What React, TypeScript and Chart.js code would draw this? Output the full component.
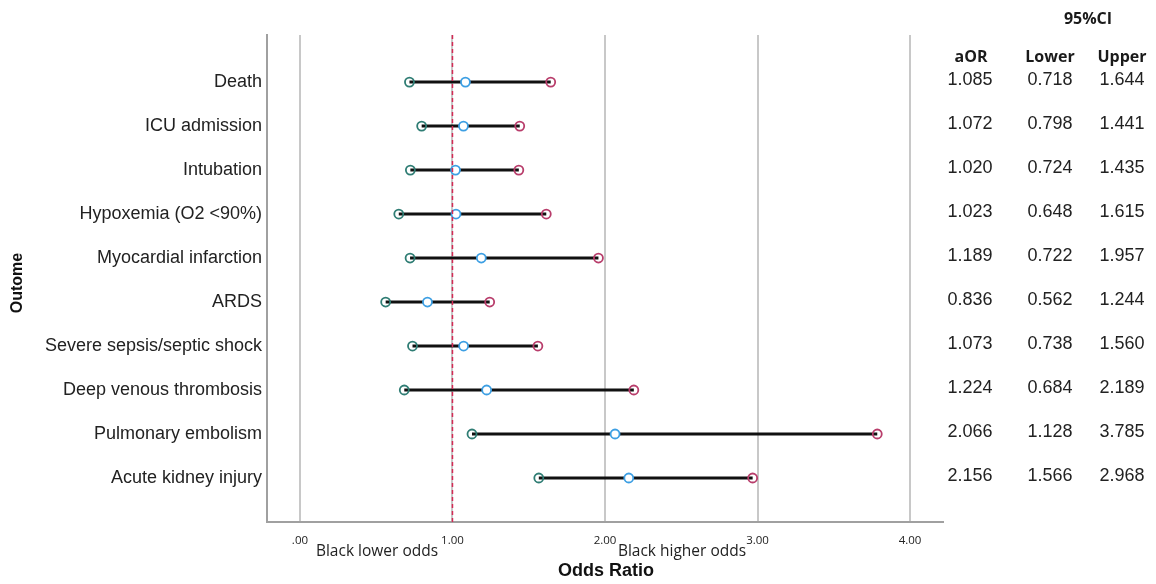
import React, { useEffect, useRef } from "react";
import { Chart, registerables } from "chart.js";

Chart.register(...registerables);

const outcomes = [
  "Death",
  "ICU admission",
  "Intubation",
  "Hypoxemia (O2 <90%)",
  "Myocardial infarction",
  "ARDS",
  "Severe sepsis/septic shock",
  "Deep venous thrombosis",
  "Pulmonary embolism",
  "Acute kidney injury",
];
const aOR = [1.085, 1.072, 1.02, 1.023, 1.189, 0.836, 1.073, 1.224, 2.066, 2.156];
const lower = [0.718, 0.798, 0.724, 0.648, 0.722, 0.562, 0.738, 0.684, 1.128, 1.566];
const upper = [1.644, 1.441, 1.435, 1.615, 1.957, 1.244, 1.56, 2.189, 3.785, 2.968];
const aORText = ["1.085", "1.072", "1.020", "1.023", "1.189", "0.836", "1.073", "1.224", "2.066", "2.156"];
const lowerText = ["0.718", "0.798", "0.724", "0.648", "0.722", "0.562", "0.738", "0.684", "1.128", "1.566"];
const upperText = ["1.644", "1.441", "1.435", "1.615", "1.957", "1.244", "1.560", "2.189", "3.785", "2.968"];
const xTickValues = [0, 1, 2, 3, 4];
const xTickLabels = [".00", "1.00", "2.00", "3.00", "4.00"];
const referenceOR = 1;

export default function App() {
  const ref = useRef<HTMLCanvasElement | null>(null);

  useEffect(() => {
    document.body.style.margin = "0";
    const canvas = ref.current;
    if (!canvas) return;

    const segData: any[] = [];
    outcomes.forEach((_, i) => {
      segData.push({ x: lower[i], y: i });
      segData.push({ x: upper[i], y: i });
      segData.push({ x: null, y: null });
    });

    const extras = {
      id: "extras",
      afterDatasetsDraw(chart: any) {
        const { ctx, chartArea, scales } = chart;
        const xs = scales.x;
        const rx = xs.getPixelForValue(referenceOR);
        ctx.save();
        ctx.strokeStyle = "#d42a55";
        ctx.lineWidth = 1.5;
        ctx.setLineDash([4, 3]);
        ctx.beginPath();
        ctx.moveTo(rx, chartArea.top);
        ctx.lineTo(rx, chartArea.bottom);
        ctx.stroke();
        ctx.restore();
      },
      afterDraw(chart: any) {
        const { ctx, scales, chartArea } = chart;
        const ys = scales.y;
        ctx.save();
        ctx.fillStyle = "#1a1a1a";
        ctx.textAlign = "center";
        ctx.textBaseline = "middle";
        ctx.font = "bold 16px 'Open Sans'";
        ctx.fillText("95%CI", 1088, 19);
        ctx.fillText("aOR", 971, 57);
        ctx.fillText("Lower", 1050, 57);
        ctx.fillText("Upper", 1122, 57);
        ctx.font = "18px 'Liberation Sans'";
        ctx.fillStyle = "#222";
        outcomes.forEach((_, i) => {
          const y = ys.getPixelForValue(i) - 2;
          ctx.fillText(aORText[i], 970, y);
          ctx.fillText(lowerText[i], 1050, y);
          ctx.fillText(upperText[i], 1122, y);
        });
        ctx.font = "15.5px 'Open Sans'";
        ctx.fillStyle = "#222";
        ctx.fillText("Black lower odds", 377, 552);
        ctx.fillText("Black higher odds", 682, 552);
        ctx.font = "bold 18px 'Liberation Sans'";
        ctx.fillStyle = "#111";
        ctx.fillText("Odds Ratio", (chartArea.left + chartArea.right) / 2 + 1, 571);
        ctx.translate(18, 283);
        ctx.rotate(-Math.PI / 2);
        ctx.font = "bold 16px 'Liberation Sans'";
        ctx.fillText("Outome", 0, 0);
        ctx.restore();
      },
    };

    const chart = new Chart(canvas, {
      type: "scatter",
      data: {
        datasets: [
          {
            label: "lower",
            data: outcomes.map((_, i) => ({ x: lower[i], y: i })),
            pointRadius: 4.5,
            pointBorderWidth: 1.8,
            pointBorderColor: "#2f7d74",
            pointBackgroundColor: "rgba(0,0,0,0)",
            showLine: false,
          },
          {
            label: "aOR",
            data: outcomes.map((_, i) => ({ x: aOR[i], y: i })),
            pointRadius: 4.5,
            pointBorderWidth: 1.8,
            pointBorderColor: "#3d9fe3",
            pointBackgroundColor: "#ffffff",
            showLine: false,
          },
          {
            label: "upper",
            data: outcomes.map((_, i) => ({ x: upper[i], y: i })),
            pointRadius: 4.5,
            pointBorderWidth: 1.8,
            pointBorderColor: "#b83d6b",
            pointBackgroundColor: "rgba(0,0,0,0)",
            showLine: false,
          },
          {
            label: "CI",
            data: segData,
            showLine: true,
            spanGaps: false,
            borderColor: "#111111",
            borderWidth: 3,
            pointRadius: 0,
            order: 5,
          } as any,
        ],
      },
      options: {
        responsive: false,
        devicePixelRatio: 1,
        animation: false,
        layout: { padding: { top: 35, right: 213, left: 0, bottom: 0 } },
        plugins: {
          legend: { display: false },
          tooltip: { enabled: false },
          title: { display: false },
        },
        scales: {
          x: {
            type: "linear",
            min: -0.216,
            max: 4.216,
            afterBuildTicks: (s: any) => {
              s.ticks = xTickValues.map((v) => ({ value: v }));
            },
            afterFit: (s: any) => {
              s.height = 62;
            },
            grid: { color: "#c8c8c8", lineWidth: 2, drawTicks: false },
            border: { display: true, color: "#a0a0a0", width: 2 },
            ticks: {
              padding: 12,
              color: "#222",
              font: { family: "'Open Sans'", size: 11.5 },
              maxRotation: 0,
              callback: (v: any) => {
                const idx = xTickValues.indexOf(Number(v));
                return idx >= 0 ? xTickLabels[idx] : "";
              },
            },
          },
          y: {
            type: "linear",
            reverse: true,
            min: -1.07,
            max: 10.0,
            afterBuildTicks: (s: any) => {
              s.ticks = outcomes.map((_, i) => ({ value: i }));
            },
            afterFit: (s: any) => {
              s.width = 267;
            },
            grid: { display: false, drawTicks: false },
            border: { display: true, color: "#a0a0a0", width: 2 },
            ticks: {
              padding: 5,
              color: "#222",
              font: { family: "'Liberation Sans'", size: 18 },
              autoSkip: false,
              callback: (v: any) => outcomes[Number(v)] ?? "",
            },
          },
        },
      },
      plugins: [extras],
    });

    return () => chart.destroy();
  }, []);

  return (
    <div style={{ width: 1156, height: 584 }}>
      <canvas ref={ref} width={1156} height={584} />
    </div>
  );
}
